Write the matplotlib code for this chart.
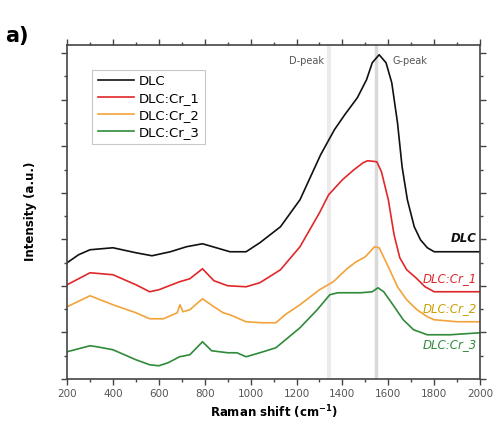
import matplotlib.pyplot as plt
from matplotlib.ticker import MultipleLocator

# Raman spectra (intensity in arbitrary units)
w_dlc = [200, 250, 300, 400, 500, 570, 650, 720, 790, 850, 910, 980, 1040, 1130,
         1215, 1305, 1365, 1410, 1465, 1505, 1530, 1560, 1590, 1615, 1640, 1660,
         1683, 1713, 1740, 1770, 1800, 1900, 2000]
i_dlc = [116, 124, 129, 131, 126, 123, 127, 132, 135, 131, 127, 127, 136, 152,
         179, 224, 249, 264, 281, 299, 316, 324, 316, 296, 256, 212,
         179, 152, 139, 131, 127, 127, 127]

w_cr1 = [200, 300, 400, 500, 560, 600, 690, 735, 790, 840, 900, 980, 1040, 1130,
         1215, 1300, 1340, 1400, 1450, 1490, 1510, 1550, 1570, 1600, 1625, 1650,
         1680, 1720, 1760, 1800, 1900, 2000]
i_cr1 = [94, 106, 104, 94, 87, 89, 97, 100, 110, 98, 93, 92, 96, 109,
         132, 166, 184, 199, 209, 216, 218, 217, 207, 179, 144, 121,
         109, 101, 92, 87, 87, 87]

w_cr2 = [200, 300, 400, 500, 560, 620, 680, 692, 705, 735, 790, 840, 880, 910,
         980, 1050, 1110, 1150, 1215, 1300, 1360, 1420, 1460, 1500, 1540, 1560,
         1600, 1640, 1680, 1725, 1770, 1800, 1900, 2000]
i_cr2 = [72, 83, 74, 66, 60, 60, 66, 74, 67, 69, 80, 72, 66, 64,
         57, 56, 56, 64, 74, 89, 97, 110, 117, 122, 132, 131,
         112, 92, 79, 69, 62, 59, 57, 57]

w_cr3 = [200, 300, 330, 400, 500, 560, 600, 640, 690, 735, 790, 830, 900, 940,
         980, 1040, 1110, 1215, 1290, 1345, 1380, 1430, 1480, 1530, 1555, 1580,
         1620, 1665, 1710, 1770, 1870, 2000]
i_cr3 = [27, 33, 32, 29, 19, 14, 13, 16, 22, 24, 37, 28, 26, 26,
         22, 26, 31, 51, 69, 84, 86, 86, 86, 87, 91, 87,
         74, 59, 49, 44, 44, 46]

series = [
    ("DLC", w_dlc, i_dlc, "#111111", "#111111", 140),
    ("DLC:Cr_1", w_cr1, i_cr1, "#e0282a", "#e0282a", 100),
    ("DLC:Cr_2", w_cr2, i_cr2, "#f2a33a", "#c9a000", 70),
    ("DLC:Cr_3", w_cr3, i_cr3, "#2f8a3a", "#2f8a3a", 34),
]

d_peak = 1340
g_peak = 1545

fig = plt.figure(figsize=(4.97, 4.43), dpi=100)
ax = fig.add_axes([0.135, 0.145, 0.831, 0.754])

ax.axvline(d_peak, color="#ebebeb", lw=3, zorder=0)
ax.axvline(g_peak, color="#d9d9d9", lw=2.5, zorder=0)

for name, w, i, c, tc, ty in series:
    ax.plot(w, i, color=c, lw=1.2, label=name)
    ax.text(1985, ty, name, color=tc, fontsize=8.5, style="italic",
            fontweight="bold" if name == "DLC" else "normal",
            ha="right", va="center")

ax.text(1318, 318, "D-peak", color="#555555", fontsize=7, ha="right", va="center")
ax.text(1620, 318, "G-peak", color="#555555", fontsize=7, ha="left", va="center")

ax.set_xlim(200, 2000)
ax.set_ylim(0, 334)
ax.xaxis.set_major_locator(MultipleLocator(200))
ax.xaxis.set_minor_locator(MultipleLocator(100))
ax.yaxis.set_major_locator(MultipleLocator(46.5))
ax.yaxis.set_minor_locator(MultipleLocator(23.25))
ax.tick_params(which="both", direction="out", top=True, right=True,
               labelleft=False, color="#444444", width=1)
ax.tick_params(which="major", length=4, labelsize=7.5, labelcolor="#555555")
ax.tick_params(which="minor", length=2.5)
for s in ax.spines.values():
    s.set_linewidth(1.2)
    s.set_color("#444444")

ax.set_xlabel("Raman shift (cm$^{\\mathbf{-1}}$)", fontsize=8.5, fontweight="bold", labelpad=3)
ax.set_ylabel("Intensity (a.u.)", fontsize=8.5, fontweight="bold", labelpad=18)

leg = ax.legend(loc="upper left", bbox_to_anchor=(0.045, 0.945), fontsize=9.5,
                frameon=True, fancybox=False, handlelength=2.8, handletextpad=0.3,
                borderpad=0.4, labelspacing=0.3)
leg.get_frame().set_edgecolor("#bbbbbb")
leg.get_frame().set_linewidth(0.8)

fig.text(0.01, 0.905, "a)", fontsize=15, fontweight="bold")

fig.savefig("out.png", dpi=100)
